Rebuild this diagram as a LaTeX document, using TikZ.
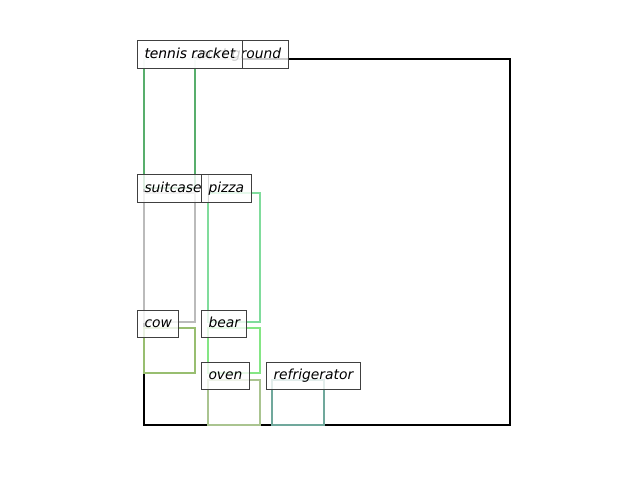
\documentclass[tikz,border=0pt]{standalone}
\usepackage{fontspec}
\setmainfont{DejaVu Sans}
\newfontfamily\lblfont{DejaVu Sans}[ItalicFont={DejaVu Sans Oblique}]
\definecolor{cRacket}{HTML}{58AE6C}
\definecolor{cSuit}{HTML}{BBBBBB}
\definecolor{cPizza}{HTML}{80DC9C}
\definecolor{cCow}{HTML}{98BE70}
\definecolor{cBear}{HTML}{84E684}
\definecolor{cOven}{HTML}{AAC490}
\definecolor{cFridge}{HTML}{70A89C}
\definecolor{cEdge}{HTML}{404040}
\begin{document}
\begin{tikzpicture}[x=0.01in,y=-0.01in,
  objbox/.style={line width=1.6pt},
  lbl/.style={draw=cEdge, line width=0.72pt, fill=white, fill opacity=0.8, text opacity=1,
    inner xsep=5.06pt, inner ysep=0pt, text height=13pt, text depth=7.2pt,
    anchor=base west, font=\lblfont\fontsize{10}{12}\selectfont\itshape}]
\useasboundingbox (0,0) rectangle (640,480);
% boxes
\draw[objbox, black] (144,59) rectangle (510,425);
\draw[objbox, cRacket] (144,59) rectangle (195,188);
\draw[objbox, cSuit] (144,193) rectangle (195,322);
\draw[objbox, cPizza] (208,193) rectangle (260,322);
\draw[objbox, cCow] (144,328) rectangle (195,373);
\draw[objbox, cBear] (208,328) rectangle (260,373);
\draw[objbox, cOven] (208,380) rectangle (260,425);
\draw[objbox, cFridge] (272,380) rectangle (324,425);
% labels
\node[lbl] (lbg) at (137,59) {tennis court ground};
\node[lbl] (lracket) at (137,59) {tennis racket};
\node[lbl] (lsuit) at (137,193) {suitcase};
\node[lbl] (lpizza) at (201,193) {pizza};
\node[lbl] (lcow) at (137,328) {cow};
\node[lbl] (lbear) at (201,328) {bear};
\node[lbl] (loven) at (201,380) {oven};
\node[lbl] (lfridge) at (266,380) {refrigerator};
\end{tikzpicture}
\end{document}
